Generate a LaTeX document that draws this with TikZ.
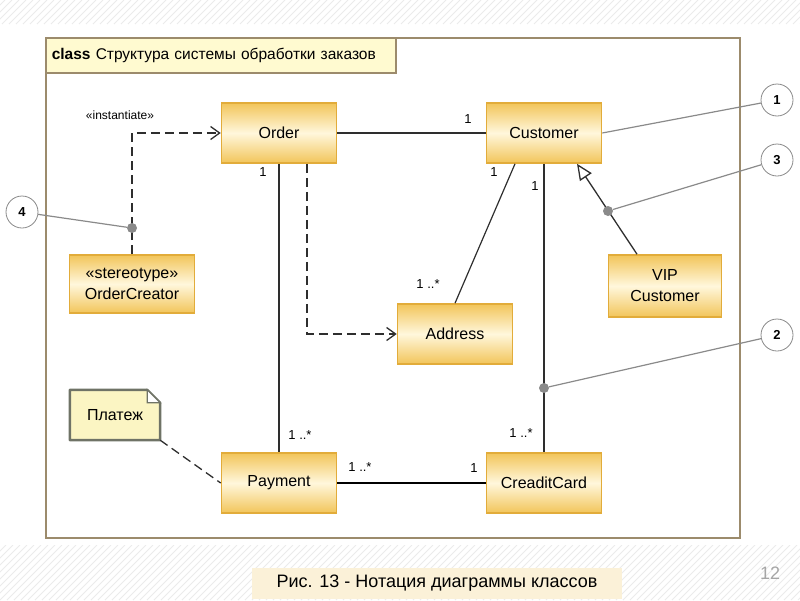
\documentclass[tikz,border=0pt]{standalone}
\usepackage{fontspec}
\setmainfont{Liberation Sans}
\usetikzlibrary{arrows.meta, positioning, backgrounds}

\definecolor{boxedge}{HTML}{E2AC3A}
\definecolor{boxlight}{HTML}{FFF7DC}
\definecolor{boxdark}{HTML}{F2C55A}
\definecolor{framecol}{HTML}{9C8B6C}
\definecolor{tabfill}{HTML}{FFFAD0}
\definecolor{notefill}{HTML}{FBF5C3}
\definecolor{noteedge}{HTML}{6F7366}
\definecolor{calloutcol}{HTML}{8A8A8A}
\definecolor{capfill}{HTML}{FBF1D8}
\definecolor{linecol}{HTML}{2E2E2E}

\begin{document}
\begin{tikzpicture}[x=1pt, y=-1pt]

\tikzset{cls/.style = {rectangle, draw=boxedge, line width=1.6pt, top color=boxdark,
  bottom color=boxdark, middle color=boxlight, minimum width=115pt, minimum height=60pt,
  align=center, font=\fontsize{16}{21}\selectfont}}
\tikzset{num/.style = {circle, draw=calloutcol, fill=white, line width=0.8pt, minimum size=32pt,
  inner sep=0pt, font=\fontsize{13}{13}\selectfont\bfseries}}
\tikzset{dot/.style = {circle, fill=calloutcol, minimum size=10pt, inner sep=0pt}}
\tikzset{mult/.style = {font=\fontsize{13}{13}\selectfont, inner sep=1pt}}
\tikzset{assoc/.style = {draw=linecol, line width=1.2pt}}
\tikzset{dep/.style = {draw=linecol, line width=1.5pt, dash pattern=on 9pt off 5pt,
  -{Straight Barb[length=9pt,width=13pt,line width=1.3pt]}}}
\tikzset{gen/.style = {draw=linecol, line width=1.3pt, -{Triangle[open,length=16pt,width=14pt,fill=white]}}}
\tikzset{callout/.style = {draw=calloutcol, line width=1.2pt}}
\tikzset{hatch/.style = {draw=gray!16, line width=0.8pt}}

\useasboundingbox (0,0) rectangle (800,600);

% background stripes
\begin{scope}
  \clip (0,0) rectangle (800,24);
  \foreach \i in {-40,-33,...,840} \draw[hatch] (\i,24) -- (\i+24,0);
\end{scope}
\begin{scope}
  \clip (0,545) rectangle (800,600);
  \foreach \i in {-70,-63,...,840} \draw[hatch] (\i,600) -- (\i+55,545);
\end{scope}

% frame and title
\node[draw=framecol, line width=1.6pt, minimum width=694pt, minimum height=500pt,
  anchor=north west, inner sep=0pt] (diagram) at (45,37) {};
\node[draw=framecol, line width=1.6pt, fill=tabfill, anchor=north west, minimum height=35pt,
  text width=338pt, inner xsep=6pt, align=left, font=\fontsize{15.5}{15.5}\selectfont] (title) at (45,37)
  {\textbf{class} Структура системы обработки заказов};

% vertices
\node[cls] (order) at (279,133) {Order};
\node[cls] (customer) at (544,133) {Customer};
\node[cls, minimum width=125pt, minimum height=58pt] (creator) at (132,284) {«stereotype»\\OrderCreator};
\node[cls, minimum width=113pt, minimum height=62pt] (vip) at (665,286) {VIP\\Customer};
\node[cls] (address) at (455,334) {Address};
\node[cls] (payment) at (279,483) {Payment};
\node[cls] (card) at (544,483) {CreaditCard};

% note
\node[minimum width=90pt, minimum height=50pt, font=\fontsize{16}{16}\selectfont] (note) at (115,415) {Платеж};
\begin{scope}[on background layer]
  \draw[draw=noteedge, line width=2.5pt, fill=notefill, line join=round]
    (note.south west) -- (note.north west) -- ([xshift=-13pt]note.north east)
    -- ([yshift=-13pt]note.north east) -- (note.south east) -- cycle;
  \draw[draw=noteedge, line width=1.2pt, fill=white]
    ([xshift=-13pt]note.north east) |- ([yshift=-13pt]note.north east) -- cycle;
\end{scope}

% callouts
\node[num] (n1) at (777,100) {1};
\node[num] (n3) at (777,160) {3};
\node[num] (n2) at (777,335) {2};
\node[num] (n4) at (22,212) {4};

%edges
\draw[assoc, line width=1.8pt] (order) -- (customer);
\draw[assoc] (order.south) -- (payment.north);
\draw[assoc] (customer.south) -- (card.north);
\draw[assoc] ([xshift=-29pt]customer.south) -- (address.north);
\draw[assoc, line width=2pt, draw=black] (payment) -- (card);
\draw[dep] ([xshift=28pt]order.south) |- (address.west);
\draw[dep] (creator.north) |- (order.west);
\draw[gen] ([xshift=-28pt]vip.north) -- ([xshift=33pt]customer.south);
\draw[draw=linecol, line width=1.3pt, dash pattern=on 9pt off 5pt] (note.south east) -- (payment.west);

% multiplicities
\node[mult] (m1) at (468,119) {1};
\node[mult] (m2) at (263,172) {1};
\node[mult] (m3) at (300,435) {1 ..*};
\node[mult] (m4) at (494,172) {1};
\node[mult] (m5) at (428,284) {1 ..*};
\node[mult] (m6) at (535,186) {1};
\node[mult] (m7) at (521,433) {1 ..*};
\node[mult] (m8) at (360,467) {1 ..*};
\node[mult] (m9) at (474,468) {1};
\node[mult, font=\fontsize{12}{12}\selectfont] (inst) at (120,115) {«instantiate»};

% dots on connectors
\node[dot] (d4) at (132,228) {};
\node[dot] (d3) at (608,211) {};
\node[dot] (d2) at (544,388) {};
\draw[callout] (customer.east) -- (n1);
\draw[callout] (d3) -- (n3);
\draw[callout] (d2) -- (n2);
\draw[callout] (d4) -- (n4);

% caption
\node[fill=capfill, minimum width=370pt, minimum height=31pt, font=\fontsize{18}{18}\selectfont] (cap)
  at (437,583) {Рис. 13 - Нотация диаграммы классов};
\node[text=gray!70, font=\fontsize{18}{18}\selectfont] (page) at (770,573) {12};

\end{tikzpicture}
\end{document}
